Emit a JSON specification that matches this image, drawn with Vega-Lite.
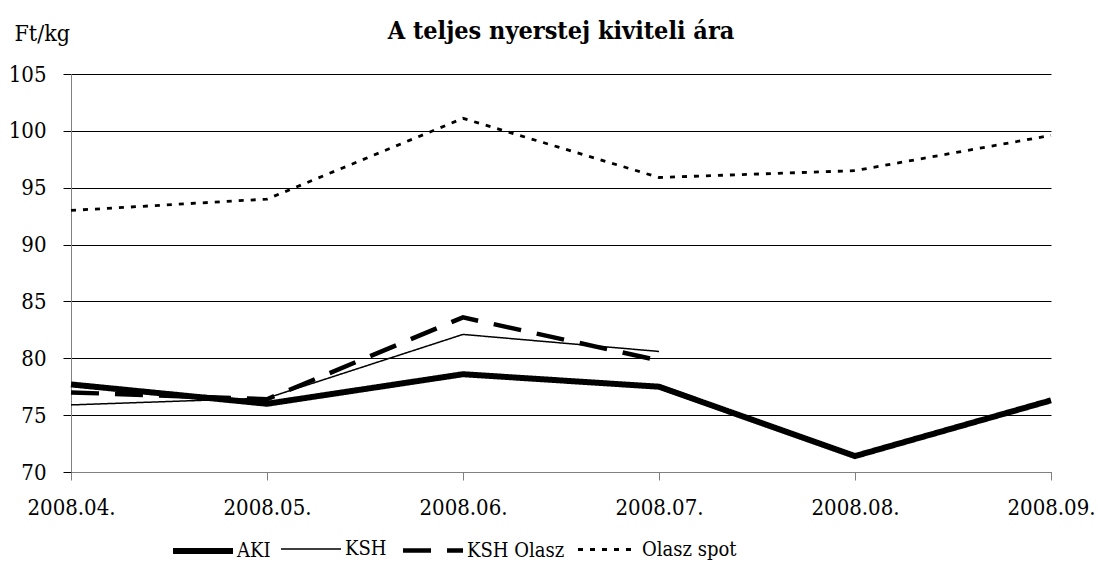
{
  "$schema": "https://vega.github.io/schema/vega-lite/v6.json",
  "width": 980,
  "height": 398,
  "autosize": {"type": "none"},
  "padding": {"left": 71, "top": 74, "right": 55, "bottom": 98},
  "background": "white",
  "config": {
    "font": "DejaVu Serif Condensed, DejaVu Serif",
    "view": {"stroke": null}
  },
  "title": {
    "text": "A teljes nyerstej kiviteli ára",
    "anchor": "middle",
    "frame": "group",
    "font": "DejaVu Serif Condensed, DejaVu Serif",
    "fontSize": 25,
    "fontWeight": "bold",
    "color": "black",
    "baseline": "alphabetic",
    "offset": 0,
    "dy": 42
  },
  "data": {
    "values": [
      {"honap": "2008.04.", "sorozat": "AKI", "ertek": 77.7},
      {"honap": "2008.05.", "sorozat": "AKI", "ertek": 76.0},
      {"honap": "2008.06.", "sorozat": "AKI", "ertek": 78.6},
      {"honap": "2008.07.", "sorozat": "AKI", "ertek": 77.5},
      {"honap": "2008.08.", "sorozat": "AKI", "ertek": 71.4},
      {"honap": "2008.09.", "sorozat": "AKI", "ertek": 76.3},
      {"honap": "2008.04.", "sorozat": "KSH", "ertek": 75.9},
      {"honap": "2008.05.", "sorozat": "KSH", "ertek": 76.5},
      {"honap": "2008.06.", "sorozat": "KSH", "ertek": 82.1},
      {"honap": "2008.07.", "sorozat": "KSH", "ertek": 80.6},
      {"honap": "2008.04.", "sorozat": "KSH Olasz", "ertek": 77.0},
      {"honap": "2008.05.", "sorozat": "KSH Olasz", "ertek": 76.4},
      {"honap": "2008.06.", "sorozat": "KSH Olasz", "ertek": 83.6},
      {"honap": "2008.07.", "sorozat": "KSH Olasz", "ertek": 79.8},
      {"honap": "2008.04.", "sorozat": "Olasz spot", "ertek": 93.0},
      {"honap": "2008.05.", "sorozat": "Olasz spot", "ertek": 94.0},
      {"honap": "2008.06.", "sorozat": "Olasz spot", "ertek": 101.1},
      {"honap": "2008.07.", "sorozat": "Olasz spot", "ertek": 95.9},
      {"honap": "2008.08.", "sorozat": "Olasz spot", "ertek": 96.5},
      {"honap": "2008.09.", "sorozat": "Olasz spot", "ertek": 99.6}
    ]
  },
  "mark": {"type": "line", "strokeCap": "butt", "strokeJoin": "miter"},
  "encoding": {
    "x": {
      "field": "honap",
      "type": "ordinal",
      "scale": {"type": "point", "padding": 0},
      "axis": {
        "title": null,
        "labelAngle": 0,
        "labelFontSize": 22,
        "labelColor": "black",
        "labelPadding": 17,
        "tickSize": 8,
        "tickColor": "#808080",
        "domainColor": "#808080",
        "grid": false,
        "labelFlush": false
      }
    },
    "y": {
      "field": "ertek",
      "type": "quantitative",
      "scale": {"domain": [70, 105], "nice": false, "zero": false},
      "axis": {
        "values": [70, 75, 80, 85, 90, 95, 100, 105],
        "title": "Ft/kg",
        "titleAngle": 0,
        "titleFontSize": 23,
        "titleFontWeight": "normal",
        "titleColor": "black",
        "titleAlign": "left",
        "titleBaseline": "alphabetic",
        "titleX": -57,
        "titleY": -34,
        "labelFontSize": 22,
        "labelColor": "black",
        "labelPadding": 17,
        "tickSize": 8,
        "tickColor": "black",
        "domainColor": "#808080",
        "grid": true,
        "gridColor": "black",
        "gridOpacity": 1,
        "gridWidth": 1
      }
    },
    "color": {
      "field": "sorozat",
      "type": "nominal",
      "scale": {"range": ["black", "black", "black", "black"]},
      "legend": {
        "title": null,
        "orient": "none",
        "direction": "horizontal",
        "columns": 4,
        "gridAlign": "none",
        "legendX": 99,
        "legendY": 444,
        "symbolType": "stroke",
        "symbolSize": 3600,
        "labelFontSize": 20,
        "labelColor": "black",
        "labelOffset": 1,
        "columnPadding": 7
      }
    },
    "strokeDash": {
      "field": "sorozat",
      "type": "nominal",
      "scale": {"type": "ordinal", "range": [[1, 0], [1, 0], [28, 16], [5, 7]]},
      "legend": {
        "title": null,
        "orient": "none",
        "direction": "horizontal",
        "columns": 4,
        "gridAlign": "none",
        "legendX": 99,
        "legendY": 444,
        "symbolType": "stroke",
        "symbolSize": 3600,
        "labelFontSize": 20,
        "labelColor": "black",
        "labelOffset": 1,
        "columnPadding": 7
      }
    },
    "strokeWidth": {
      "field": "sorozat",
      "type": "nominal",
      "scale": {"type": "ordinal", "range": [6, 1.5, 4.5, 2.8]},
      "legend": {
        "title": null,
        "orient": "none",
        "direction": "horizontal",
        "columns": 4,
        "gridAlign": "none",
        "legendX": 99,
        "legendY": 444,
        "symbolType": "stroke",
        "symbolSize": 3600,
        "labelFontSize": 20,
        "labelColor": "black",
        "labelOffset": 1,
        "columnPadding": 7
      }
    }
  }
}
